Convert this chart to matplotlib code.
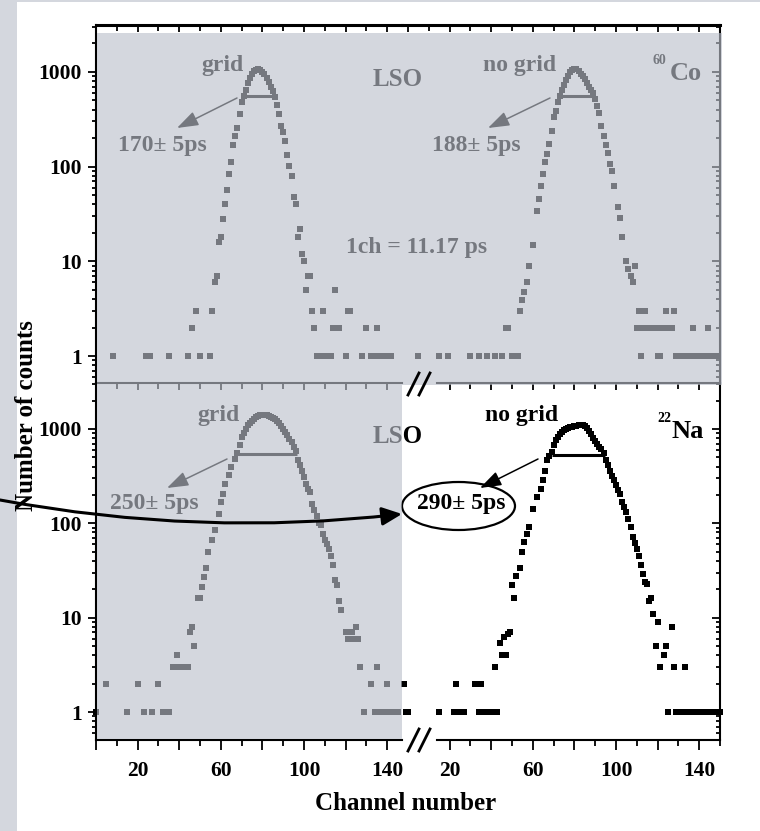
import matplotlib
matplotlib.use("Agg")
import matplotlib.pyplot as plt
from matplotlib.patches import Rectangle, Ellipse, FancyArrowPatch
from matplotlib.lines import Line2D
from matplotlib.ticker import FixedLocator, FuncFormatter, LogLocator, NullFormatter

plt.rcParams['font.family'] = ['Liberation Serif', 'DejaVu Serif']
plt.rcParams['font.weight'] = 'bold'

# ---- data (channel, counts) ----
co_grid_ch = [8, 24, 26, 35, 44, 46, 48, 50, 55, 56,
              57, 58, 59, 60, 61, 62, 63, 64, 65, 66, 67, 68, 69, 70,
              71, 72, 73, 74, 75, 76, 77, 78, 79, 80, 81, 82, 83, 84, 85, 86,
              87, 88, 89, 90, 91, 92, 93, 94, 95, 96, 97, 98, 99, 100, 101, 102, 103, 104, 105,
              106, 107, 108, 109, 110, 111, 112, 113, 114, 115, 117, 120, 121, 122, 128, 130,
              132, 133, 135, 136, 138, 140, 142]
co_grid_n = [1, 1, 1, 1, 1, 2, 3, 1, 1, 3,
             6, 7, 16, 18, 28, 40, 56, 83, 112, 168, 210, 258, 360, 480,
             560, 650, 760, 870, 950, 1010, 1050, 1070, 1050, 1000, 940, 860, 780, 700, 620, 540,
             450, 360, 270, 230, 188, 131, 102, 80, 48, 40, 18, 22, 12, 10, 5, 7, 7, 3, 2,
             1, 1, 1, 3, 1, 1, 1, 1, 2, 5, 2, 1, 3, 3, 1, 2,
             1, 1, 2, 1, 1, 1, 1]

co_nogrid_ch = [5, 15, 19, 30, 34, 38, 42, 45, 47, 48, 50, 51, 52, 53,
                54, 55, 56, 57, 58, 60, 62, 63, 64, 65, 66, 67, 68, 69, 70, 71, 72, 73,
                74, 75, 76, 77, 78, 79, 80, 81, 82, 83, 84, 85, 86, 87, 88, 89, 90,
                91, 92, 93, 94, 95, 96, 97, 98, 99, 101, 102, 103, 105, 106, 107, 108, 109,
                110, 111, 112, 113, 114, 115, 116, 117, 118, 119, 120, 121, 122, 123, 124, 125,
                126, 127, 128,
                129, 130, 131, 132, 133, 134, 135, 136, 137, 138, 139, 140, 141, 142, 143, 144,
                145, 146, 147, 148, 149]
co_nogrid_n = [1, 1, 1, 1, 1, 1, 1, 1, 2, 2, 1, 1, 1, 1,
               3, 3.9, 4.8, 6, 9, 14.7, 34, 46, 63, 84, 111, 136, 174, 240, 330, 390, 476, 560,
               650, 720, 820, 910, 990, 1040, 1070, 1060, 1020, 960, 910, 840, 770, 700, 640, 600, 520,
               440, 370, 270, 210, 170, 140, 107, 90, 63, 37, 29, 18, 10, 8.4, 7, 6, 9,
               2, 3, 1, 2, 3, 2, 2, 2, 2, 2, 1, 1, 2, 2, 3, 2,
               2, 2, 3,
               1, 1, 1, 1, 1, 1, 1, 1, 2, 1, 1, 1, 1, 1, 1, 2,
               1, 1, 1, 1, 1]

na_grid_ch = [0, 5, 15, 20, 23, 27, 30, 32, 34, 35,
              37, 38, 39, 40, 41, 42, 43, 44, 45, 46, 47, 49, 50, 51, 52, 53, 54, 56, 57, 59,
              60, 61, 62, 64, 65, 67,
              68, 69, 70, 71, 72, 73, 74, 75, 76, 77, 78, 79, 80, 81, 82, 83, 84, 85, 86, 87,
              88, 89, 90, 91, 92, 93, 94, 95, 96,
              97, 98, 99, 100, 101, 102, 103, 104, 105, 106, 107, 108, 109, 110, 111, 112, 113,
              114, 115, 116, 117, 118,
              120, 121, 122, 123, 124, 125, 126, 127, 129, 132, 134, 135, 137, 138, 140, 141, 143, 145]
na_grid_n = [1, 2, 1, 2, 1, 1, 2, 1, 1, 1,
             3, 3, 4, 3, 3, 3, 3, 3, 7, 8, 5, 16, 16, 21, 27, 34, 50, 66, 84, 126,
             168, 206, 263, 323, 395, 480,
             550, 680, 815, 900, 990, 1090, 1160, 1220, 1280, 1330, 1360, 1390, 1400, 1410, 1400,
             1380, 1350, 1310, 1280, 1220,
             1150, 1080, 1000, 930, 860, 790, 720, 650, 590,
             465, 420, 363, 310, 263, 230, 214, 162, 140, 121, 100, 95, 78, 66, 60, 54, 45,
             36, 25, 22, 15, 12,
             7, 6, 6, 7, 6, 8, 6, 3, 1, 2, 1, 3, 1, 1, 2, 1, 1, 1]

na_nogrid_ch = [-2, -1, 0, 15, 22, 23, 25, 27, 32, 34, 35, 36, 37, 39, 40, 41, 42, 43,
                44, 45, 46, 47, 48, 49, 50, 51, 52, 54, 55, 56, 57, 58, 60, 62, 64, 65, 66, 67, 68,
                69, 70, 71, 72, 73, 74, 75, 76, 77, 78, 79, 80, 81, 82, 83, 84, 85, 86, 87, 88,
                89, 90, 91, 92, 93, 94,
                95, 96, 97, 98, 99, 100, 101, 102, 103, 104, 105, 106, 107, 108, 109, 110, 111,
                112, 113, 114, 115, 116, 117, 118,
                119, 120, 121, 123, 124, 125, 127, 128, 129, 130, 131, 132, 133, 134, 135, 136,
                137, 138, 139, 140, 141, 142, 143, 145, 146, 147, 148, 149, 150]
na_nogrid_n = [2, 1, 1, 1, 1, 2, 1, 1, 2, 1, 2, 1, 1, 1, 1, 1, 3, 1,
               5.4, 4, 6.3, 4, 6.8, 7, 22, 16, 28, 34, 50, 63, 78, 91, 143, 189, 232, 285, 363, 465, 520,
               570, 680, 755, 830, 890, 940, 970, 1000, 1020, 1040, 1060, 1070, 1080, 1090, 1100,
               1110, 1080, 1020, 950, 890,
               800, 740, 690, 650, 620, 560,
               470, 420, 363, 320, 290, 253, 225, 207, 168, 148, 131, 110, 91, 71, 62, 54, 45,
               36, 29, 24, 23, 15, 16, 11,
               5, 9, 3, 4, 5, 1, 8, 3, 1, 1, 1, 1, 3, 1, 1, 1,
               1, 1, 1, 1, 1, 1, 1, 1, 1, 1, 1, 1, 1]

# FWHM bars: (left channel, right channel, level)
fwhm_co_grid = (71.6, 86.0, 560)
fwhm_co_nogrid = (73.1, 89.9, 560)
fwhm_na_grid = (67.6, 96.5, 540)
fwhm_na_nogrid = (69.1, 94.7, 530)

W, H = 760, 831


def fx(x):
    return x / W


def fy(y):
    return 1 - y / H


fig = plt.figure(figsize=(W / 100, H / 100), dpi=100)
fig.patch.set_facecolor('white')

page = (212 / 255, 215 / 255, 222 / 255)
fig.add_artist(Rectangle((0, 0), fx(17), 1, transform=fig.transFigure, fc=page, ec='none', zorder=1))
fig.add_artist(Rectangle((0, fy(2)), 1, 2 / H, transform=fig.transFigure, fc=page, ec='none', zorder=1))

TICKFONT = 15.5
LW = 1.5


def yfmt(v, pos):
    return "%g" % v


def xfmt(v, pos):
    return "%d" % v if int(round(v)) % 40 == 20 else ""


def make_axes(rect, xlim, ylim, side):
    ax = fig.add_axes(rect)
    ax.set_facecolor('none')
    ax.set_yscale('log')
    ax.set_xlim(*xlim)
    ax.set_ylim(*ylim)
    for s in ax.spines.values():
        s.set_linewidth(LW)
        s.set_visible(False)
    ax.yaxis.set_major_locator(LogLocator(base=10, numticks=10))
    ax.yaxis.set_minor_locator(LogLocator(base=10, subs=range(2, 10), numticks=20))
    ax.yaxis.set_minor_formatter(NullFormatter())
    if side == 'left':
        ax.spines['left'].set_visible(True)
        ax.yaxis.set_major_formatter(FuncFormatter(yfmt))
        ax.tick_params(axis='y', which='both', left=True, right=False, direction='out',
                       labelsize=TICKFONT, pad=4, width=1.3)
        ax.tick_params(axis='y', which='major', length=6)
        ax.tick_params(axis='y', which='minor', length=3)
    else:
        ax.spines['right'].set_visible(True)
        ax.tick_params(axis='y', which='both', left=False, right=True, labelleft=False,
                       direction='in', width=1.3)
        ax.tick_params(axis='y', which='major', length=6)
        ax.tick_params(axis='y', which='minor', length=3)
    return ax


top_ylim = (0.52, 3120)
bot_ylim = (0.506, 3070)
left_xlim = (0, 147.1)
right_xlim = (-2.9, 150.0)

ax_tl = make_axes([fx(96), fy(383), 306 / W, 358 / H], left_xlim, top_ylim, 'left')
ax_tr = make_axes([fx(402), fy(383), 318 / W, 358 / H], right_xlim, top_ylim, 'right')
ax_bl = make_axes([fx(96), fy(740), 306 / W, 357 / H], left_xlim, bot_ylim, 'left')
ax_br = make_axes([fx(402), fy(740), 318 / W, 357 / H], right_xlim, bot_ylim, 'right')

# top panel: top spine with inward ticks, no bottom ticks
for ax, major, minor in [(ax_tl, range(0, 141, 20), range(10, 141, 20)),
                         (ax_tr, range(0, 141, 20), range(10, 151, 20))]:
    ax.spines['top'].set_visible(True)
    ax.spines['top'].set_linewidth(2.2)
    ax.xaxis.set_major_locator(FixedLocator(list(major)))
    ax.xaxis.set_minor_locator(FixedLocator(list(minor)))
    ax.tick_params(axis='x', which='both', bottom=False, top=True, labelbottom=False,
                   labeltop=False, direction='in', width=1.3)
    ax.tick_params(axis='x', which='major', length=5)
    ax.tick_params(axis='x', which='minor', length=4)

# bottom panel: bottom spine with outward ticks, top spine (middle line) with inward ticks
for ax, major, minor, bounds in [(ax_bl, range(0, 141, 20), range(10, 141, 20), (0, 147.1)),
                                 (ax_br, range(20, 141, 20), range(30, 151, 20), (14, 150))]:
    ax.spines['bottom'].set_visible(True)
    ax.spines['bottom'].set_bounds(*bounds)
    ax.xaxis.set_major_locator(FixedLocator(list(major)))
    ax.xaxis.set_minor_locator(FixedLocator(list(minor)))
    ax.xaxis.set_major_formatter(FuncFormatter(xfmt))
    ax.tick_params(axis='x', which='both', bottom=True, top=False, direction='out',
                   labelsize=TICKFONT, pad=8, width=1.3)
    ax.tick_params(axis='x', which='major', length=7)
    ax.tick_params(axis='x', which='minor', length=4)
    sec = ax.secondary_xaxis('top')
    sec.spines['top'].set_linewidth(LW)
    sec.spines['top'].set_bounds(*bounds)
    sec.xaxis.set_major_locator(FixedLocator(list(major)))
    sec.xaxis.set_minor_locator(FixedLocator(list(minor)))
    sec.xaxis.set_major_formatter(NullFormatter())
    sec.tick_params(axis='x', which='both', direction='in', width=1.3)
    sec.tick_params(axis='x', which='major', length=5)
    sec.tick_params(axis='x', which='minor', length=4)

# data
for ax, ch, n, bar in [(ax_tl, co_grid_ch, co_grid_n, fwhm_co_grid),
                       (ax_tr, co_nogrid_ch, co_nogrid_n, fwhm_co_nogrid),
                       (ax_bl, na_grid_ch, na_grid_n, fwhm_na_grid),
                       (ax_br, na_nogrid_ch, na_nogrid_n, fwhm_na_nogrid)]:
    ax.plot(ch, n, ls='none', marker='s', ms=3.8, mew=0, color='black', clip_on=False)
    ax.plot([bar[0], bar[1]], [bar[2], bar[2]], color='black', lw=2.2, solid_capstyle='butt')


def label(x, y, s, size=17, **kw):
    fig.text(fx(x), fy(y), s, fontsize=size, ha='center', va='center', zorder=3, **kw)


def arrow(x0, y0, x1, y1):
    fig.add_artist(FancyArrowPatch((fx(x0), fy(y0)), (fx(x1), fy(y1)), transform=fig.transFigure,
                                   arrowstyle='-|>,head_length=1.3,head_width=0.45',
                                   mutation_scale=10, lw=1.1, color='black',
                                   shrinkA=0, shrinkB=0, zorder=3))


label(222, 66, "grid")
label(162, 145, "170\u00b1 5ps")
label(398, 79, "LSO", size=18)
label(417, 247, "1ch = 11.17 ps")
label(520, 66, "no grid")
label(476, 145, "188\u00b1 5ps")
label(659, 61, "60", size=10)
label(686, 73, "Co", size=19)
arrow(237, 98, 177, 128)
arrow(550, 98, 488, 128)

label(219, 415, "grid")
label(154, 504, "250\u00b1 5ps")
label(398, 437, "LSO", size=18)
label(522, 415, "no grid")
label(461, 504, "290\u00b1 5ps")
label(664, 419, "22", size=10)
label(688, 432, "Na", size=19)
arrow(227, 459, 167, 488)
arrow(538, 459, 480, 488)

fig.add_artist(Ellipse((fx(458.5), fy(506)), 113 / W, 48 / H, transform=fig.transFigure,
                       fill=False, ec='black', lw=1.6, zorder=3))

label(406, 803, "Channel number", size=18)
label(27, 416, "Number of counts", size=18, rotation=90)

# translucent grey overlay (top panel and left half of the bottom panel)
veil = (187 / 255, 192 / 255, 203 / 255)
fig.add_artist(Rectangle((fx(97), fy(385)), 625 / W, 352 / H, transform=fig.transFigure,
                         fc=veil, ec='none', alpha=0.63, zorder=5))
fig.add_artist(Rectangle((fx(97), fy(739)), 305 / W, 354 / H, transform=fig.transFigure,
                         fc=veil, ec='none', alpha=0.63, zorder=5))

# axis break marks
for yb in (384, 740):
    for xs in (408, 419):
        fig.add_artist(Line2D([fx(xs), fx(xs + 11)], [fy(yb + 11), fy(yb - 11)],
                              transform=fig.transFigure, color='black', lw=2.0, zorder=10))

# long curved arrow to the highlighted value
fig.add_artist(FancyArrowPatch((fx(0), fy(500)), (fx(402), fy(514)), transform=fig.transFigure,
                               connectionstyle='arc3,rad=0.075',
                               arrowstyle='-|>,head_length=1.2,head_width=0.55',
                               mutation_scale=10, lw=2.2, color='black',
                               shrinkA=0, shrinkB=0, zorder=10))

fig.savefig("out.png", dpi=100)
